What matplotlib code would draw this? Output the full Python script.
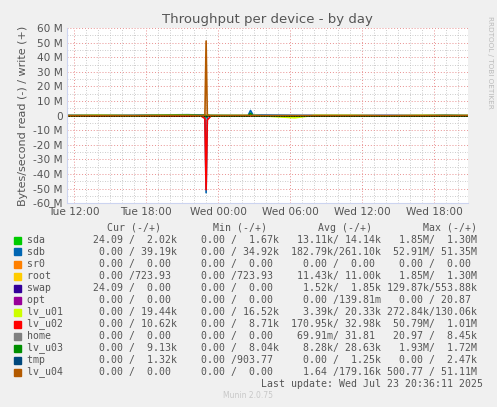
import matplotlib
matplotlib.use("Agg")
import matplotlib.pyplot as plt
from matplotlib.ticker import MultipleLocator, FuncFormatter

# hours since Tue 00:00
times = [11.4, 14.0, 17.0, 19.0, 21.5, 22.6, 22.9, 23.0, 23.1, 23.4, 26.5, 26.7, 26.9,
         27.1, 30.4, 32.0, 35.0, 38.0, 41.0, 42.9, 44.8]
# values in MB/s, write positive, read negative
series = {
    "sdb":    [0.1, 0.1, 0.1, 0.4, 0.6, 0.3, 0.3, -52.9, 0.3, 0.3, 0.1, 3.5, 0.5,
               0.4, 0.2, 0.1, 0.1, 0.1, 0.1, 0.4, 0.1],
    "swap":   [-0.3, -0.3, -0.3, -0.3, -0.3, -0.2, -0.2, -0.2, -0.2, -0.2, -0.1, -0.1, -0.1,
               -0.2, -0.2, -0.1, -0.1, -0.1, -0.1, -0.1, -0.1],
    "lv_u02": [-0.4, -0.4, -0.4, -0.4, -0.4, -0.4, -2.0, -50.8, -3.0, -0.3, -0.1, -0.1, -0.1,
               -0.3, -0.3, -0.4, -0.4, -0.4, -0.4, -0.3, -0.1],
    "lv_u01": [-0.2, 0.2, -0.2, 0.2, 0.3, -0.2, 0.2, 0.2, 0.2, 0.1, 0.1, 0.2, 0.1,
               0.1, -1.5, 0.2, 0.2, -0.2, 0.2, 0.1, 0.1],
    "lv_u03": [0.0, 0.0, 0.0, 0.0, 0.2, 0.1, 0.3, -1.0, 0.3, -0.3, -0.3, 1.5, -0.3,
               -0.3, -0.3, -0.3, -0.3, -0.3, -0.3, -0.3, -0.3],
    "lv_u04": [0.0, 0.0, 0.0, 0.0, 0.0, 0.0, 0.0, 51.1, 0.0, 0.0, 0.0, 0.0, 0.0,
               0.0, 0.0, 0.0, 0.0, 0.0, 0.0, 0.0, 0.0],
}

names = ["sda", "sdb", "sr0", "root", "swap", "opt", "lv_u01", "lv_u02",
         "home", "lv_u03", "tmp", "lv_u04"]
colors = ["#00CC00", "#0066B3", "#FF8000", "#FFCC00", "#330099", "#990099",
          "#CCFF00", "#FF0000", "#808080", "#008F00", "#00487D", "#B35A00"]
cur = [("24.09", "2.02k"), ("0.00", "39.19k"), ("0.00", "0.00"), ("0.00", "723.93"),
       ("24.09", "0.00"), ("0.00", "0.00"), ("0.00", "19.44k"), ("0.00", "10.62k"),
       ("0.00", "0.00"), ("0.00", "9.13k"), ("0.00", "1.32k"), ("0.00", "0.00")]
mins = [("0.00", "1.67k"), ("0.00", "34.92k"), ("0.00", "0.00"), ("0.00", "723.93"),
        ("0.00", "0.00"), ("0.00", "0.00"), ("0.00", "16.52k"), ("0.00", "8.71k"),
        ("0.00", "0.00"), ("0.00", "8.04k"), ("0.00", "903.77"), ("0.00", "0.00")]
avgs = [("13.11k", "14.14k"), ("182.79k", "261.10k"), ("0.00", "0.00"), ("11.43k", "11.00k"),
        ("1.52k", "1.85k"), ("0.00", "139.81m"), ("3.39k", "20.33k"), ("170.95k", "32.98k"),
        ("69.91m", "31.81"), ("8.28k", "28.63k"), ("0.00", "1.25k"), ("1.64", "179.16k")]
maxs = [("1.85M", "1.30M"), ("52.91M", "51.35M"), ("0.00", "0.00"), ("1.85M", "1.30M"),
        ("129.87k", "553.88k"), ("0.00", "20.87"), ("272.84k", "130.06k"), ("50.79M", "1.01M"),
        ("20.97", "8.45k"), ("1.93M", "1.72M"), ("0.00", "2.47k"), ("500.77", "51.11M")]


def half(s):
    if s[-1] in "kMm":
        return f"{s[:-1]:>6}{s[-1]}"
    return f"{s:>6} "


def field(pair):
    return half(pair[0]) + "/" + half(pair[1])


fig = plt.figure(figsize=(4.97, 4.07), dpi=100, facecolor="#F0F0F0")
ax = fig.add_axes([0.135, 0.501, 0.807, 0.430], facecolor="white")

for name, vals in series.items():
    ax.plot(times, vals, color=colors[names.index(name)], lw=1.2)
ax.axhline(0, color="black", lw=0.6, ls=(0, (1, 1)))

ax.set_xlim(11.42, 44.83)
ax.set_ylim(-60, 60)
ax.xaxis.set_major_locator(MultipleLocator(6))
ax.xaxis.set_minor_locator(MultipleLocator(1))
ax.yaxis.set_major_locator(MultipleLocator(10))
ax.yaxis.set_minor_locator(MultipleLocator(5))
day = {0: "Tue", 1: "Wed"}
ax.xaxis.set_major_formatter(FuncFormatter(
    lambda v, p: f"{day.get(int(v // 24), '')} {int(v % 24):02d}:00"))
ax.yaxis.set_major_formatter(FuncFormatter(
    lambda v, p: "0" if v == 0 else f"{int(v)} M"))
ax.grid(which="minor", color="#BBBBBB", lw=0.6, ls=(0, (1, 2)))
ax.grid(which="major", color="#E89090", lw=0.7, ls=(0, (1, 2)))
ax.tick_params(which="both", length=0, labelsize=7.6, colors="#555555", pad=3)
for s in ax.spines.values():
    s.set_visible(False)
ax.spines["left"].set_visible(True)
ax.spines["bottom"].set_visible(True)
ax.spines["left"].set_color("#CCD4F0")
ax.spines["bottom"].set_color("#CCD4F0")
ax.set_ylabel("Bytes/second read (-) / write (+)", fontsize=8, color="#555555")
ax.set_title("Throughput per device - by day", fontsize=9.5, color="#555555", pad=4)
fig.text(0.985, 0.96, "RRDTOOL / TOBI OETIKER", rotation=270, fontsize=5.2,
         color="#BBBBBB", va="top", ha="center")

W, H = 497, 407
mono = dict(family="DejaVu Sans Mono", fontsize=7.1, color="#555555", va="center")
cw = 5.97
x0 = 26.7
for col, hdr in [(13.4, "Cur (-/+)"), (31.2, "Min (-/+)"), (48.8, "Avg (-/+)"), (66.4, "Max (-/+)")]:
    fig.text((x0 + col * cw) / W, 1 - 228 / H, hdr, **mono)
for i, name in enumerate(names):
    y = 240 + 12 * i
    fig.patches.append(plt.Rectangle((14 / W, 1 - (y + 3.5) / H), 7 / W, 7 / H,
                                     transform=fig.transFigure, color=colors[i]))
    line = (f"{name:<10}" + field(cur[i]) + "  " + field(mins[i]) + "  "
            + field(avgs[i]) + " " + field(maxs[i]))
    fig.text(x0 / W, 1 - y / H, line, **mono)
fig.text(483 / W, 1 - 384 / H, "Last update: Wed Jul 23 20:36:11 2025", ha="right", **mono)
fig.text(248 / W, 1 - 396 / H, "Munin 2.0.75", fontsize=5.5, color="#C8C8C8",
         ha="center", va="center")

fig.savefig("out.png", dpi=100, facecolor=fig.get_facecolor())
